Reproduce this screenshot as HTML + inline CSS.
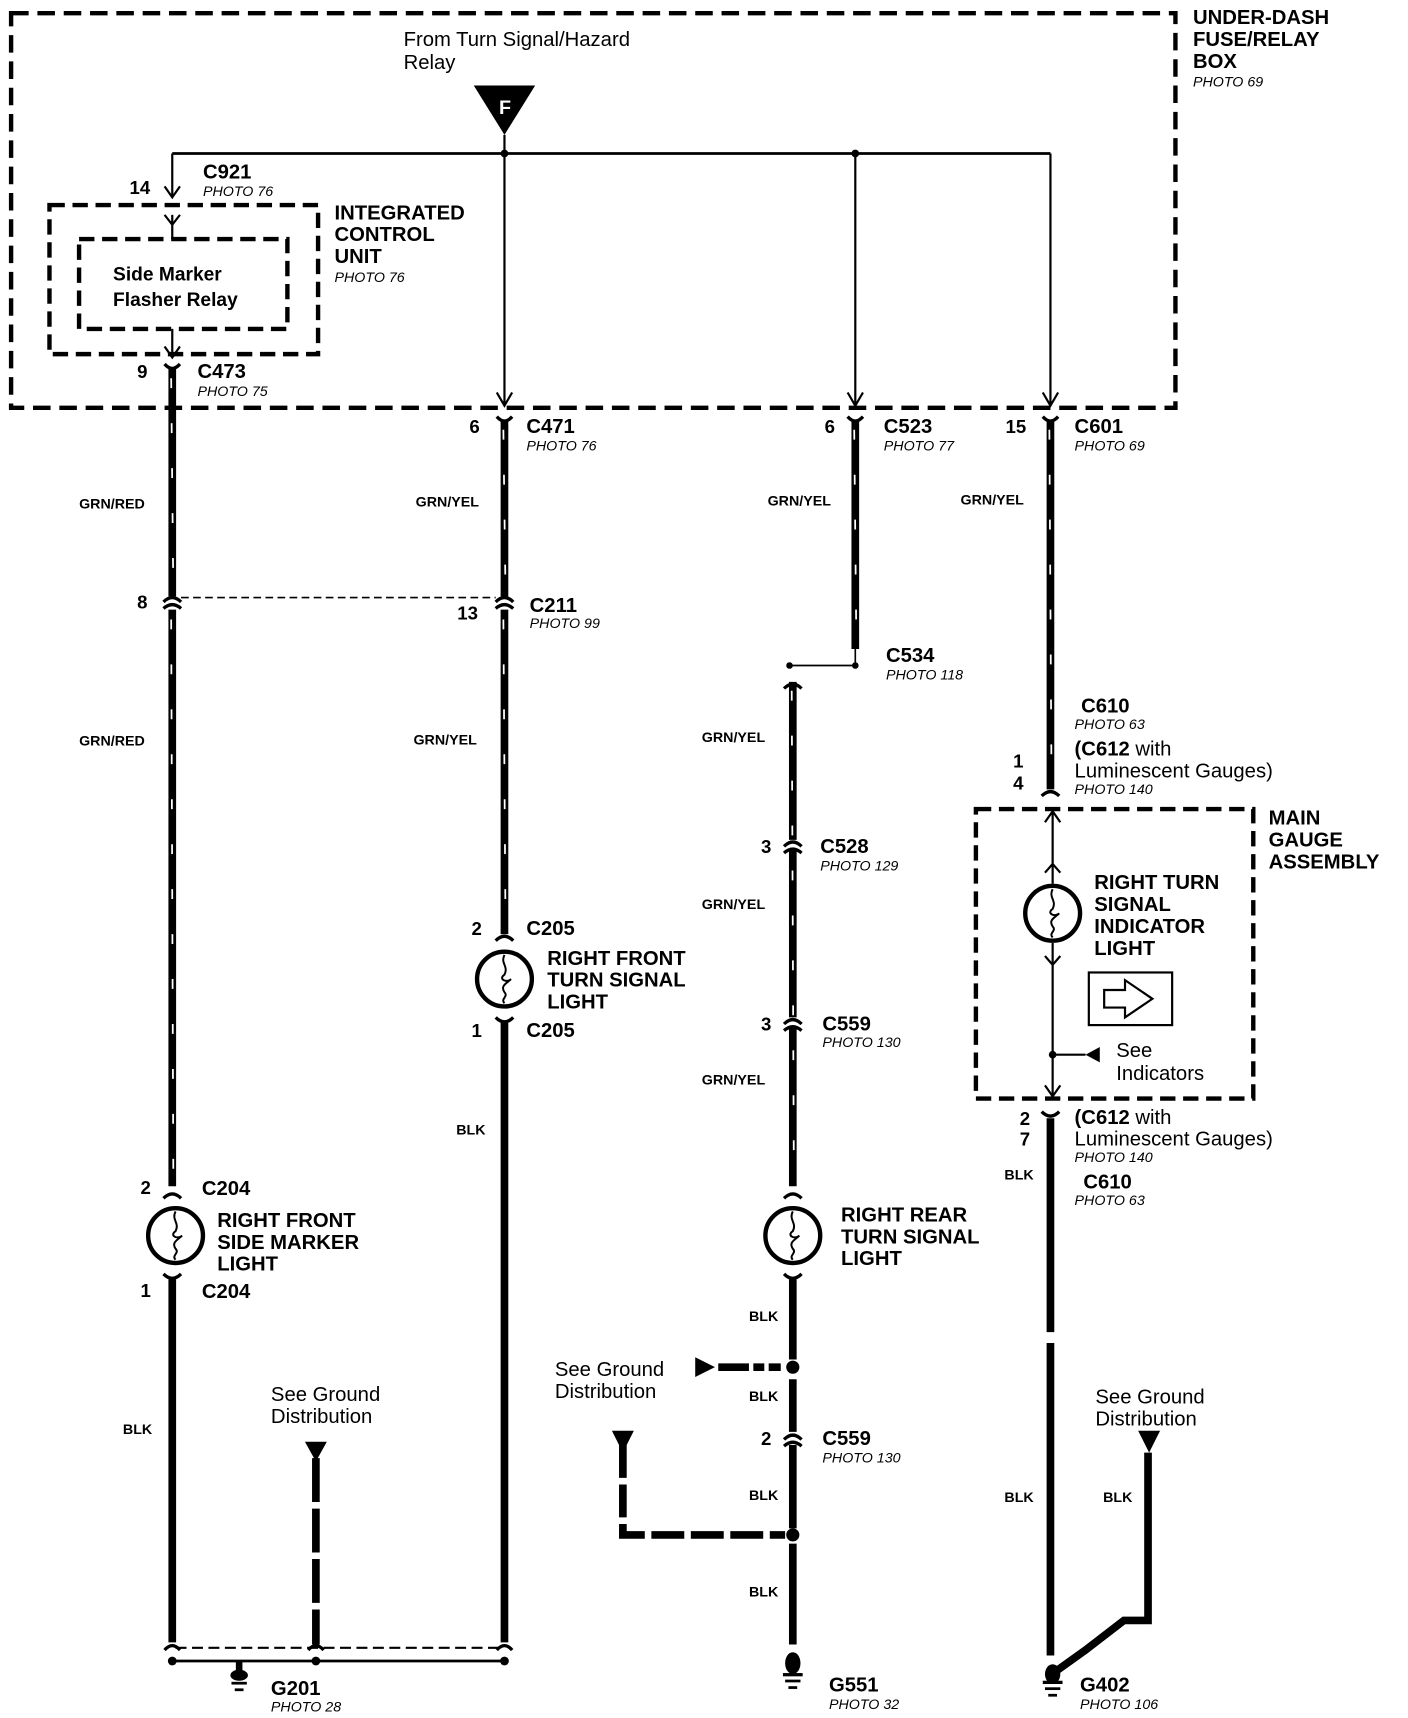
<!DOCTYPE html>
<html><head><meta charset="utf-8"><style>
html,body{margin:0;padding:0;background:#fff}
svg{display:block}
text{font-family:"Liberation Sans",Arial,sans-serif;fill:#000}
.b{font-weight:bold;font-size:18.5px}
.w{font-weight:bold;font-size:13px}
.p{font-style:italic;font-size:13px}
.r{font-size:18.5px}
.n{font-weight:bold;font-size:17px}
</style></head><body>
<svg width="1408" height="1718" viewBox="0 0 1284 1567" xmlns="http://www.w3.org/2000/svg">
<g fill="none" stroke="#000">
<path d="M10,12 H1072 V372 H10 Z" stroke-width="4" stroke-dasharray="16,8"/>
<path d="M45,187 H290 V323 H45 Z" stroke-width="4" stroke-dasharray="14,7"/>
<path d="M72,218 H262 V300 H72 Z" stroke-width="4" stroke-dasharray="14,7"/>
<path d="M157,140 H958" stroke-width="2.5"/>
<path d="M157,140 V180 M150,170 L157,180 L164,170" stroke-width="2"/>
<path d="M157,196 V218 M150,196 L157,205 L164,196" stroke-width="2"/>
<path d="M157,300 V326 M150,316 L157,326 L164,316" stroke-width="2"/>
<path d="M460,123 V370 M453,358 L460,370 L467,358" stroke-width="2"/>
<path d="M780,140 V370 M773,358 L780,370 L787,358" stroke-width="2"/>
<path d="M958,140 V370 M951,358 L958,370 L965,358" stroke-width="2"/>
<g stroke-width="7">
<path d="M157,336 V544"/><path d="M157,556 V1082"/><path d="M157,1167 V1498"/>
<path d="M460,384 V544"/><path d="M460,556 V852"/><path d="M460,933 V1498"/>
<path d="M780,384 V592"/>
<path d="M723,622 V766"/><path d="M723,776 V928"/><path d="M723,938 V1082"/><path d="M723,1167 V1240"/><path d="M723,1258 V1306"/><path d="M723,1318 V1394"/><path d="M723,1408 V1500"/>
<path d="M958,384 V720"/><path d="M958,1020 V1215"/><path d="M958,1225 V1510"/>
<path d="M1047,1325 V1478 H1025 L990,1505 L962,1525"/>
</g>
<g stroke="#fff" stroke-width="1.6" stroke-dasharray="9,32">
<path d="M156,345 L158,544"/><path d="M156,565 L158,1080"/>
<path d="M459,392 L461,544"/><path d="M459,565 L461,850"/>
<path d="M779,392 L781,590"/>
<path d="M722,630 L724,1080"/>
<path d="M957,392 L959,718"/>
</g>
<g stroke-width="3">
<path d="M150,332 Q157,340 164,332"/><path d="M453,380 Q460,388 467,380"/><path d="M773,380 Q780,388 787,380"/><path d="M951,380 Q958,388 965,380"/>
<path d="M149,549 Q157,541 165,549 M149,555 Q157,548 165,555"/>
<path d="M452,549 Q460,541 468,549 M452,555 Q460,548 468,555"/>
<path d="M149,1093 Q157,1085 165,1093"/><path d="M149,1162 Q157,1170 165,1162"/>
<path d="M452,858 Q460,850 468,858"/><path d="M452,928 Q460,936 468,928"/>
<path d="M715,1093 Q723,1085 731,1093"/><path d="M715,1162 Q723,1170 731,1162"/>
<path d="M715,628 Q723,620 731,628"/>
<path d="M715,772 Q723,764 731,772 M715,778 Q723,771 731,778"/>
<path d="M715,934 Q723,926 731,934 M715,940 Q723,933 731,940"/>
<path d="M715,1313 Q723,1305 731,1313 M715,1319 Q723,1312 731,1319"/>
<path d="M950,726 Q958,718 966,726"/><path d="M950,1014 Q958,1022 966,1014"/>
<path d="M150,1505 Q157,1497 164,1505"/><path d="M453,1505 Q460,1497 467,1505"/><path d="M281,1505 Q288,1497 295,1505"/>
</g>
<path d="M165,545 H452" stroke-width="1.5" stroke-dasharray="7,4"/>
<path d="M160,1503 H457" stroke-width="2" stroke-dasharray="10,5"/>
<path d="M160,1515 H460" stroke-width="2.5"/>
<path d="M780,592 V607 H720" stroke-width="1.5"/>
<g stroke-width="4">
<circle cx="160" cy="1127" r="25"/><circle cx="460" cy="893" r="25"/><circle cx="723" cy="1127" r="25"/><circle cx="960" cy="833" r="25"/>
</g>
<g stroke-width="1.8">
<path d="M160,1105 c-4,8 4,10 0,18 c-6,4 2,8 6,4 c-4,4 -10,6 -6,12 c4,4 -4,6 0,10"/>
<path d="M460,871 c-4,8 4,10 0,18 c-6,4 2,8 6,4 c-4,4 -10,6 -6,12 c4,4 -4,6 0,10"/>
<path d="M723,1105 c-4,8 4,10 0,18 c-6,4 2,8 6,4 c-4,4 -10,6 -6,12 c4,4 -4,6 0,10"/>
<path d="M960,811 c-4,8 4,10 0,18 c-6,4 2,8 6,4 c-4,4 -10,6 -6,12 c4,4 -4,6 0,10"/>
</g>
<path d="M890,738 H1143 V1002 H890 Z" stroke-width="4" stroke-dasharray="14,7"/>
<path d="M960,740 V806 M953,750 L960,740 L967,750 M953,796 L960,788 L967,796" stroke-width="2"/>
<path d="M960,860 V1000 M953,872 L960,880 L967,872 M953,990 L960,1000 L967,990 M960,962 H990" stroke-width="2"/>
<rect x="993" y="887" width="76" height="48" stroke-width="2"/>
<path d="M1007,903 H1026 V894 L1051,911 L1026,928 V919 H1007 Z" stroke-width="2"/>
<path d="M288,1330 V1500" stroke-width="7" stroke-dasharray="40,6"/>
<path d="M568,1318 V1400 H716" stroke-width="7" stroke-dasharray="30,6"/>
<path d="M655,1247 H712" stroke-width="7" stroke-dasharray="28,4,10,4"/>
</g>
<g fill="#000">
<polygon points="432,78 488,78 460,123"/>
<circle cx="460" cy="140" r="3.5"/><circle cx="780" cy="140" r="3.5"/>
<circle cx="720" cy="607" r="3"/><circle cx="780" cy="607" r="3"/>
<circle cx="157" cy="1515" r="4"/><circle cx="288" cy="1515" r="4"/><circle cx="460" cy="1515" r="4"/>
<circle cx="723" cy="1247" r="6"/><circle cx="723" cy="1400" r="6"/>
<circle cx="960" cy="962" r="3.5"/>
<polygon points="990,962 1003,955 1003,969"/>
<polygon points="634,1238 634,1256 652,1247"/>
<polygon points="558,1305 578,1305 568,1325"/>
<polygon points="278,1315 298,1315 288,1333"/>
<polygon points="1038,1305 1058,1305 1048,1325"/>
<rect x="215" y="1515" width="6" height="10"/><ellipse cx="218" cy="1528" rx="8" ry="5"/><rect x="211" y="1534" width="14" height="2.5"/><rect x="214" y="1540" width="8" height="2.5"/>
<ellipse cx="723" cy="1517" rx="7" ry="10"/><rect x="714" y="1526" width="18" height="3"/><rect x="716" y="1532" width="14" height="2.5"/><rect x="719" y="1538" width="8" height="2.5"/>
<ellipse cx="960" cy="1527" rx="7" ry="9"/><rect x="951" y="1533" width="18" height="3"/><rect x="953" y="1539" width="14" height="2.5"/><rect x="956" y="1545" width="8" height="2.5"/>
</g>
<text x="455" y="104" style="fill:#fff;font-size:18px;font-weight:bold">F</text>
<text class="r" x="368" y="42">From Turn Signal/Hazard</text>
<text class="r" x="368" y="63">Relay</text>
<text class="b" x="1088" y="22">UNDER-DASH</text>
<text class="b" x="1088" y="42">FUSE/RELAY</text>
<text class="b" x="1088" y="62">BOX</text>
<text class="p" x="1088" y="79">PHOTO 69</text>
<text class="b" x="185" y="163">C921</text><text class="p" x="185" y="179">PHOTO 76</text>
<text class="n" x="118" y="177">14</text>
<text class="b" x="305" y="200">INTEGRATED</text><text class="b" x="305" y="220">CONTROL</text><text class="b" x="305" y="240">UNIT</text><text class="p" x="305" y="257">PHOTO 76</text>
<text class="b" x="103" y="256" style="font-size:17.5px">Side Marker</text>
<text class="b" x="103" y="279" style="font-size:17.5px">Flasher Relay</text>
<text class="n" x="125" y="345">9</text><text class="b" x="180" y="345">C473</text><text class="p" x="180" y="361">PHOTO 75</text>
<text class="n" x="428" y="395">6</text><text class="b" x="480" y="395">C471</text><text class="p" x="480" y="411">PHOTO 76</text>
<text class="n" x="752" y="395">6</text><text class="b" x="806" y="395">C523</text><text class="p" x="806" y="411">PHOTO 77</text>
<text class="n" x="917" y="395">15</text><text class="b" x="980" y="395">C601</text><text class="p" x="980" y="411">PHOTO 69</text>
<text class="w" x="72" y="464">GRN/RED</text><text class="w" x="379" y="462">GRN/YEL</text><text class="w" x="700" y="461">GRN/YEL</text><text class="w" x="876" y="460">GRN/YEL</text>
<text class="n" x="125" y="555">8</text><text class="n" x="417" y="565">13</text><text class="b" x="483" y="558">C211</text><text class="p" x="483" y="573">PHOTO 99</text>
<text class="b" x="808" y="604">C534</text><text class="p" x="808" y="620">PHOTO 118</text>
<text class="w" x="72" y="680">GRN/RED</text><text class="w" x="377" y="679">GRN/YEL</text><text class="w" x="640" y="677">GRN/YEL</text>
<text class="b" x="986" y="650">C610</text><text class="p" x="980" y="665">PHOTO 63</text>
<text class="r" x="980" y="689"><tspan font-weight="bold">(C612</tspan> with</text>
<text class="r" x="980" y="709">Luminescent Gauges)</text>
<text class="p" x="980" y="724">PHOTO 140</text>
<text class="n" x="924" y="700">1</text><text class="n" x="924" y="720">4</text>
<text class="b" x="1157" y="752">MAIN</text><text class="b" x="1157" y="772">GAUGE</text><text class="b" x="1157" y="792">ASSEMBLY</text>
<text class="n" x="694" y="778">3</text><text class="b" x="748" y="778">C528</text><text class="p" x="748" y="794">PHOTO 129</text>
<text class="b" x="998" y="811">RIGHT TURN</text><text class="b" x="998" y="831">SIGNAL</text><text class="b" x="998" y="851">INDICATOR</text><text class="b" x="998" y="871">LIGHT</text>
<text class="w" x="640" y="829">GRN/YEL</text>
<text class="n" x="430" y="853">2</text><text class="b" x="480" y="853">C205</text>
<text class="b" x="499" y="880">RIGHT FRONT</text><text class="b" x="499" y="900">TURN SIGNAL</text><text class="b" x="499" y="920">LIGHT</text>
<text class="n" x="430" y="946">1</text><text class="b" x="480" y="946">C205</text>
<text class="n" x="694" y="940">3</text><text class="b" x="750" y="940">C559</text><text class="p" x="750" y="955">PHOTO 130</text>
<text class="r" x="1018" y="964">See</text><text class="r" x="1018" y="985">Indicators</text>
<text class="w" x="640" y="989">GRN/YEL</text>
<text class="n" x="930" y="1026">2</text><text class="n" x="930" y="1045">7</text>
<text class="r" x="980" y="1025"><tspan font-weight="bold">(C612</tspan> with</text>
<text class="r" x="980" y="1045">Luminescent Gauges)</text>
<text class="p" x="980" y="1060">PHOTO 140</text>
<text class="w" x="416" y="1035">BLK</text>
<text class="w" x="916" y="1076">BLK</text>
<text class="b" x="988" y="1084">C610</text><text class="p" x="980" y="1099">PHOTO 63</text>
<text class="n" x="128" y="1089">2</text><text class="b" x="184" y="1090">C204</text>
<text class="b" x="198" y="1119">RIGHT FRONT</text><text class="b" x="198" y="1139">SIDE MARKER</text><text class="b" x="198" y="1159">LIGHT</text>
<text class="n" x="128" y="1183">1</text><text class="b" x="184" y="1184">C204</text>
<text class="b" x="767" y="1114">RIGHT REAR</text><text class="b" x="767" y="1134">TURN SIGNAL</text><text class="b" x="767" y="1154">LIGHT</text>
<text class="w" x="683" y="1205">BLK</text><text class="w" x="683" y="1278">BLK</text><text class="w" x="683" y="1368">BLK</text><text class="w" x="683" y="1456">BLK</text>
<text class="r" x="506" y="1255">See Ground</text><text class="r" x="506" y="1275">Distribution</text>
<text class="r" x="247" y="1278">See Ground</text><text class="r" x="247" y="1298">Distribution</text>
<text class="r" x="999" y="1280">See Ground</text><text class="r" x="999" y="1300">Distribution</text>
<text class="w" x="112" y="1308">BLK</text>
<text class="n" x="694" y="1318">2</text><text class="b" x="750" y="1318">C559</text><text class="p" x="750" y="1334">PHOTO 130</text>
<text class="w" x="916" y="1370">BLK</text><text class="w" x="1006" y="1370">BLK</text>
<text class="b" x="247" y="1546">G201</text><text class="p" x="247" y="1561">PHOTO 28</text>
<text class="b" x="756" y="1543">G551</text><text class="p" x="756" y="1559">PHOTO 32</text>
<text class="b" x="985" y="1543">G402</text><text class="p" x="985" y="1559">PHOTO 106</text>
</svg>
</body></html>
